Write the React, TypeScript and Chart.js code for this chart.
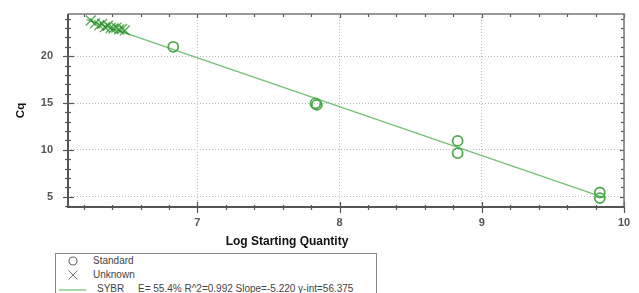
import React, { useEffect, useRef } from "react";
import { Chart, registerables } from "chart.js";

Chart.register(...registerables);

// ---- data ----
const standardX = [6.83, 7.83, 7.84, 8.83, 8.83, 9.83, 9.83];
const standardY = [21.0, 14.95, 14.8, 10.95, 9.65, 5.45, 4.85];
const unknownX = [6.25, 6.28, 6.31, 6.33, 6.35, 6.37, 6.39, 6.41, 6.43, 6.45, 6.47, 6.49];
const unknownY = [23.8, 23.5, 23.3, 23.45, 23.1, 23.25, 23.0, 22.95, 23.05, 22.85, 22.9, 22.75];
const fitX = [6.22, 9.87];
const fitY = [23.9, 4.85];
const xTicks = [7, 8, 9, 10];
const yTicks = [5, 10, 15, 20];
const xRange = [6.09, 10.0];
const yRange = [3.9, 24.5];
const legendLabels = ["Standard", "Unknown", "SYBR"];
const fitStats = "E= 55.4% R^2=0.992 Slope=-5.220 y-int=56.375";
const xTitle = "Log Starting Quantity";
const yTitle = "Cq";

const FONT = "'Liberation Sans', Arial, sans-serif";
const circleColor = "rgba(70,165,70,0.95)";
const crossColor = "rgba(30,140,30,0.7)";
const lineColor = "rgba(110,190,110,0.95)";

const framePlugin = {
  id: "frame",
  afterDraw(chart: any) {
    const { ctx, chartArea, scales } = chart;
    const { left, right, top, bottom } = chartArea;
    const x = scales.x;
    const y = scales.y;
    ctx.save();
    ctx.strokeStyle = "#555";
    ctx.lineWidth = 1.2;
    // x ticks (every 0.2)
    for (let i = Math.ceil(x.min * 5); i <= Math.floor(x.max * 5 + 1e-6); i++) {
      const v = i / 5;
      const px = Math.round(x.getPixelForValue(v)) + 0.5;
      const major = i % 5 === 0;
      ctx.beginPath();
      ctx.moveTo(px, bottom - (major ? 5 : 2));
      ctx.lineTo(px, bottom + (major ? 6 : 3));
      ctx.stroke();
      ctx.beginPath();
      ctx.moveTo(px, top);
      ctx.lineTo(px, top + (major ? 4 : 3));
      ctx.stroke();
    }
    // y ticks (every 1)
    for (let v = Math.ceil(y.min); v <= Math.floor(y.max); v++) {
      const py = Math.round(y.getPixelForValue(v)) + 0.5;
      const major = v % 5 === 0;
      ctx.beginPath();
      ctx.moveTo(left - (major ? 5 : 3), py);
      ctx.lineTo(left + (major ? 6 : 3), py);
      ctx.stroke();
      ctx.beginPath();
      ctx.moveTo(right - (major ? 4 : 3), py);
      ctx.lineTo(right, py);
      ctx.stroke();
    }
    // frame
    ctx.strokeStyle = "#777";
    ctx.lineWidth = 1.5;
    ctx.beginPath();
    ctx.moveTo(left, top);
    ctx.lineTo(right, top);
    ctx.lineTo(right, bottom);
    ctx.stroke();
    ctx.strokeStyle = "#555";
    ctx.lineWidth = 2;
    ctx.beginPath();
    ctx.moveTo(left, top);
    ctx.lineTo(left, bottom);
    ctx.lineTo(right, bottom);
    ctx.stroke();
    ctx.restore();
  },
};

function ChartCanvas() {
  const ref = useRef<HTMLCanvasElement | null>(null);
  useEffect(() => {
    if (!ref.current) return;
    const chart = new Chart(ref.current, {
      type: "scatter",
      data: {
        datasets: [
          {
            label: legendLabels[0],
            data: standardX.map((v, i) => ({ x: v, y: standardY[i] })),
            pointStyle: "circle",
            pointRadius: 5,
            borderColor: circleColor,
            backgroundColor: "rgba(0,0,0,0)",
            borderWidth: 1.8,
          },
          {
            label: legendLabels[1],
            data: unknownX.map((v, i) => ({ x: v, y: unknownY[i] })),
            pointStyle: "crossRot",
            pointRadius: 7,
            borderColor: crossColor,
            backgroundColor: crossColor,
            borderWidth: 1.4,
          },
          {
            label: legendLabels[2],
            data: fitX.map((v, i) => ({ x: v, y: fitY[i] })),
            showLine: true,
            pointRadius: 0,
            borderColor: lineColor,
            borderWidth: 1.5,
          },
        ],
      },
      options: {
        responsive: false,
        animation: false,
        events: [],
        layout: { padding: { left: 10, top: 14, right: 15, bottom: 41 } },
        plugins: { legend: { display: false }, tooltip: { enabled: false } },
        scales: {
          x: {
            type: "linear",
            min: xRange[0],
            max: xRange[1],
            afterBuildTicks: (s: any) => {
              s.ticks = xTicks.map((v) => ({ value: v }));
            },
            afterFit: (s: any) => {
              s.height = 45;
              s.paddingLeft = 0;
              s.paddingRight = 0;
            },
            grid: { color: "#bbb", lineWidth: 1, drawTicks: false },
            border: { display: false, dash: [1, 2] },
            ticks: {
              padding: 9,
              color: "#555",
              font: { family: FONT, size: 11, weight: "bold" },
              maxRotation: 0,
            },
            title: { display: false },
          },
          y: {
            type: "linear",
            min: yRange[0],
            max: yRange[1],
            afterBuildTicks: (s: any) => {
              s.ticks = yTicks.map((v) => ({ value: v }));
            },
            afterFit: (s: any) => {
              s.width = 58;
              s.paddingTop = 0;
              s.paddingBottom = 0;
            },
            grid: { color: "#bbb", lineWidth: 1, drawTicks: false },
            border: { display: false, dash: [1, 2] },
            ticks: {
              padding: 15,
              color: "#555",
              font: { family: FONT, size: 11, weight: "bold" },
            },
            title: {
              display: true,
              text: yTitle,
              color: "#111",
              font: { family: FONT, size: 11.5, weight: "bold" },
              padding: { top: 4, bottom: 0 },
            },
          },
        },
      },
      plugins: [framePlugin],
    } as any);
    return () => chart.destroy();
  }, []);
  return <canvas ref={ref} width={639} height={293} style={{ display: "block" }} />;
}

function Legend() {
  const rowStyle = (top: number): React.CSSProperties => ({
    position: "absolute",
    top,
    left: 0,
    height: 14,
    lineHeight: "14px",
    whiteSpace: "nowrap",
  });
  return (
    <div
      style={{
        position: "absolute",
        left: 55,
        top: 253,
        width: 320,
        height: 60,
        border: "1px solid #888",
        background: "#fff",
        fontFamily: FONT,
        fontSize: 10,
        color: "#444",
      }}
    >
      <div style={rowStyle(0)}>
        <svg width={30} height={14} style={{ position: "absolute", left: 5, top: 0 }}>
          <circle cx={12} cy={7} r={4} fill="none" stroke="#666" strokeWidth={1.1} />
        </svg>
        <span style={{ position: "absolute", left: 37 }}>{legendLabels[0]}</span>
      </div>
      <div style={rowStyle(14)}>
        <svg width={30} height={14} style={{ position: "absolute", left: 5, top: 0 }}>
          <path d="M7.5 2.5 L16.5 11.5 M16.5 2.5 L7.5 11.5" stroke="#777" strokeWidth={1} />
        </svg>
        <span style={{ position: "absolute", left: 37 }}>{legendLabels[1]}</span>
      </div>
      <div style={rowStyle(28)}>
        <svg width={30} height={14} style={{ position: "absolute", left: 3, top: 0 }}>
          <line x1={0} y1={8} x2={27} y2={8} stroke={lineColor} strokeWidth={1.3} />
        </svg>
        <span style={{ position: "absolute", left: 41 }}>{legendLabels[2]}</span>
        <span style={{ position: "absolute", left: 82 }}>{fitStats}</span>
      </div>
    </div>
  );
}

export default function App() {
  return (
    <div
      style={{
        position: "fixed",
        left: 0,
        top: 0,
        width: 639,
        height: 293,
        overflow: "hidden",
        background: "#fff",
      }}
    >
      <ChartCanvas />
      <div
        style={{
          position: "absolute",
          left: 0,
          top: 233,
          width: 574,
          textAlign: "center",
          fontFamily: FONT,
          fontSize: 12,
          fontWeight: "bold",
          color: "#111",
          lineHeight: "16px",
          whiteSpace: "nowrap",
        }}
      >
        {xTitle}
      </div>
      <Legend />
    </div>
  );
}
